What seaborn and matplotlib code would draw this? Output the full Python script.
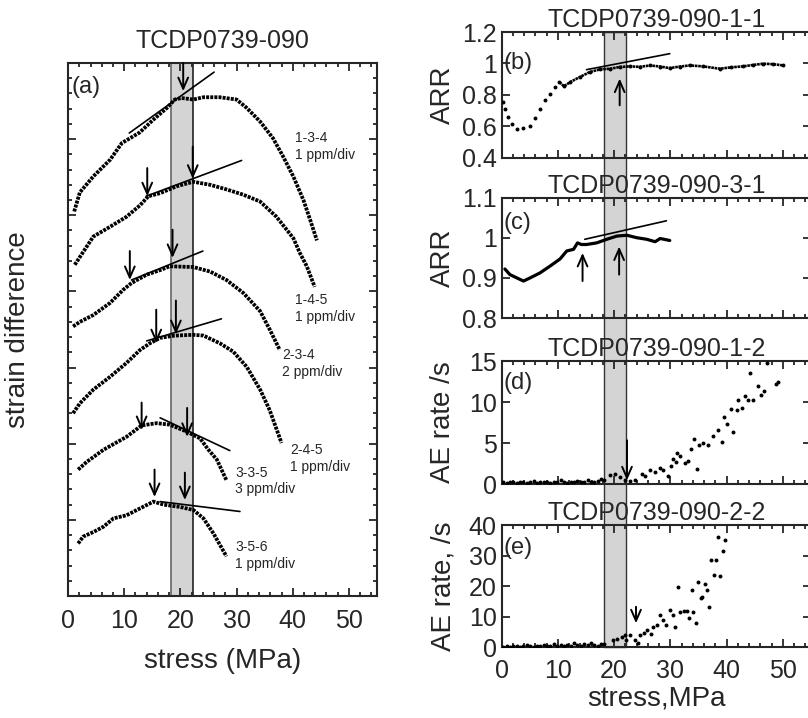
import pandas as pd
import matplotlib.pyplot as plt
import matplotlib.transforms as mtransforms
from matplotlib.patches import Rectangle
from matplotlib.ticker import MultipleLocator, FuncFormatter
import seaborn as sns

sns.set_style("ticks")
plt.rcParams['font.family'] = ['Liberation Sans', 'DejaVu Sans']

# ---- panel (a): strain difference curves (stress MPa, offset in divisions) ----
a134_x = [1.1, 2.1, 4.5, 7.5, 9.6, 11.0, 12.8, 15.1, 17.6, 19.0, 20.2, 22.3, 24.1, 27.0, 30.0,
          31.8, 34.2, 36.5, 38.3, 40.1, 41.9, 43.1, 44.3]
a134_y = [5.05, 5.30, 5.51, 5.73, 5.95, 6.01, 6.09, 6.25, 6.41, 6.52, 6.54, 6.52, 6.55, 6.55, 6.52,
          6.41, 6.23, 6.01, 5.77, 5.51, 5.20, 4.94, 4.67]
a145_x = [1.2, 4.5, 7.5, 10.4, 12.8, 14.3, 16.4, 19.3, 22.3, 25.3, 28.2, 31.2, 34.2, 37.1, 40.1,
          41.3, 42.5, 43.9]
a145_y = [4.35, 4.72, 4.85, 4.98, 5.13, 5.25, 5.29, 5.38, 5.44, 5.40, 5.34, 5.27, 5.18, 4.98, 4.70,
          4.50, 4.33, 4.06]
a234_x = [0.9, 2.1, 4.5, 7.5, 9.8, 11.3, 14.0, 16.4, 18.1, 22.3, 25.3, 28.2, 31.2, 34.2, 35.9, 37.7]
a234_y = [3.54, 3.60, 3.69, 3.85, 4.02, 4.11, 4.22, 4.28, 4.33, 4.32, 4.26, 4.15, 3.98, 3.74, 3.50, 3.23]
a245_x = [0.9, 2.1, 4.5, 7.5, 10.4, 12.8, 14.6, 16.4, 19.0, 22.3, 24.1, 27.0, 29.4, 31.8, 34.2,
          35.9, 38.0]
a245_y = [2.40, 2.53, 2.71, 2.88, 3.06, 3.23, 3.32, 3.39, 3.42, 3.43, 3.42, 3.32, 3.21, 3.01, 2.71,
          2.44, 2.01]
a335_x = [1.8, 3.3, 6.3, 10.4, 13.1, 15.8, 18.1, 21.1, 23.5, 25.0, 26.5, 28.2]
a335_y = [1.66, 1.76, 1.92, 2.09, 2.24, 2.27, 2.25, 2.16, 2.07, 1.92, 1.79, 1.52]
a356_x = [1.8, 2.7, 4.5, 6.3, 8.1, 10.4, 12.8, 15.2, 17.0, 19.9, 22.3, 24.1, 25.9, 28.2]
a356_y = [0.69, 0.78, 0.84, 0.91, 1.02, 1.06, 1.15, 1.24, 1.20, 1.17, 1.13, 1.02, 0.82, 0.52]

curve_names = ["1-3-4\n1 ppm/div", "1-4-5\n1 ppm/div", "2-3-4\n2 ppm/div",
               "2-4-5\n1 ppm/div", "3-3-5\n3 ppm/div", "3-5-6\n1 ppm/div"]
label_x = [40.4, 40.4, 38.1, 39.5, 29.8, 29.8]
label_y = [5.9, 3.78, 3.05, 1.81, 1.51, 0.53]

# arrows: (stress, tail y, tip y) ; tangent lines: (x0, y0, x1, y1)
a_arrows = [(20.5, 7.0, 6.63), (14.1, 5.62, 5.25), (22.2, 5.90, 5.48),
            (11.0, 4.53, 4.15), (18.6, 4.81, 4.44), (15.7, 3.76, 3.32), (19.2, 3.88, 3.44),
            (13.1, 2.54, 2.18), (21.2, 2.47, 2.09), (15.4, 1.66, 1.30), (20.8, 1.62, 1.26)]
a_tangents = [(10.9, 6.08, 26.0, 6.88), (13.9, 5.25, 30.9, 5.72), (11.3, 4.15, 24.0, 4.53),
              (14.0, 3.35, 27.3, 3.64), (16.4, 2.34, 28.8, 1.91), (16.4, 1.24, 30.6, 1.11)]

shade_lo, shade_hi = 18.3, 22.2

# ---- panel (b): ARR, TCDP0739-090-1-1 ----
b_x = [0.3, 0.6, 1.2, 1.8, 2.7, 3.9, 5.1, 6.0, 6.8, 7.7, 8.6, 9.5, 10.3, 11.1, 12.2, 13.9, 15.7,
       17.5, 19.3, 21.0, 22.8, 24.6, 26.4, 28.2, 29.9, 31.7, 33.5, 35.8, 38.8, 40.8, 42.9, 44.7,
       46.5, 48.3, 50.1]
b_y = [0.754, 0.712, 0.659, 0.613, 0.585, 0.589, 0.600, 0.649, 0.712, 0.765, 0.808, 0.850, 0.881,
       0.854, 0.881, 0.913, 0.945, 0.962, 0.966, 0.977, 0.981, 0.978, 0.987, 0.980, 0.970, 0.980,
       0.987, 0.981, 0.966, 0.975, 0.981, 0.990, 0.998, 0.995, 0.987]
b_arrows = [(21.0, 0.733, 0.903)]
b_tangent = (15.1, 0.960, 29.9, 1.062)

# ---- panel (c): ARR, TCDP0739-090-3-1 ----
c_x = [0.6, 1.5, 2.7, 3.9, 5.1, 6.8, 8.6, 10.4, 11.6, 12.8, 13.5, 14.2, 15.1, 16.9, 18.7, 20.5,
       22.3, 24.0, 25.8, 27.3, 28.2, 29.9]
c_y = [0.922, 0.908, 0.900, 0.892, 0.900, 0.912, 0.929, 0.947, 0.967, 0.971, 0.987, 0.983, 0.983,
       0.987, 0.996, 1.004, 1.006, 1.000, 0.996, 0.990, 0.998, 0.993]
c_arrows = [(14.4, 0.892, 0.962), (20.9, 0.908, 0.978)]
c_tangent = (14.8, 0.996, 29.3, 1.042)

# ---- panel (d): AE rate, TCDP0739-090-1-2 ----
d_x = [0.3, 0.9, 1.5, 2.1, 2.7, 3.3, 3.9, 4.5, 5.1, 5.7, 6.3, 6.9, 7.5, 8.1, 8.7, 9.3, 9.9, 10.5,
       11.1, 11.7, 12.3, 12.9, 13.5, 14.1, 14.7, 15.3, 15.9, 16.5, 17.1, 17.7, 18.3,
       19.3, 20.2, 21.0, 21.9, 22.8, 23.7, 24.9, 25.5, 26.4, 27.3, 28.2, 28.7, 29.6, 30.2, 31.0,
       30.4, 31.1, 31.7, 32.6, 33.2, 34.7, 33.7, 34.2, 35.1, 35.8, 36.7, 37.6, 38.5, 39.1, 39.6,
       40.1, 41.1, 40.7, 41.8, 42.1, 42.7, 43.2, 44.1, 43.8, 44.7, 45.6, 46.2, 46.6, 47.2, 48.8,
       49.2]
d_y = [0.2, 0.1, 0.3, 0.2, 0.1, 0.2, 0.3, 0.1, 0.2, 0.4, 0.1, 0.2, 0.3, 0.2, 0.1, 0.3, 0.2, 0.5,
       0.2, 0.1, 0.3, 0.2, 0.4, 0.2, 0.3, 0.5, 0.3, 0.2, 0.4, 0.6, 0.5,
       1.06, 1.27, 0.85, 0.45, 0.37, 0.54, 1.27, 0.94, 1.76, 1.46, 2.0, 1.76, 0.94, 2.16, 2.68,
       3.10, 3.78, 3.38, 2.56, 2.80, 1.88, 4.32, 5.54, 4.72, 5.00, 4.72, 5.82, 6.55, 5.12, 8.17,
       7.37, 6.34, 9.19, 9.07, 10.2, 9.32, 10.7, 13.5, 10.3, 10.2, 12.0, 10.8, 11.4, 14.7, 12.2,
       12.4]
d_arrows = [(22.3, 5.33, 0.45)]

# ---- panel (e): AE rate, TCDP0739-090-2-2 ----
e_x = [0.3, 0.9, 1.5, 2.1, 2.7, 3.3, 3.9, 4.5, 5.1, 5.7, 6.3, 6.9, 7.5, 8.1, 8.7, 9.3, 9.9, 10.5,
       11.1, 11.7, 12.3, 12.9, 13.5, 14.1, 14.7, 15.3, 15.9, 16.5, 17.1, 17.7, 18.3,
       19.9, 20.5, 21.4, 21.9, 22.2, 22.8, 23.7, 24.3, 24.6, 25.3, 25.8, 26.5, 27.0, 27.6, 28.2,
       28.7, 29.3, 29.9, 30.4, 30.8, 31.4, 31.8, 32.4, 33.0, 33.4, 33.8, 34.1, 34.5, 34.9, 35.4,
       35.7, 36.1, 36.6, 36.9, 37.3, 37.7, 38.2, 38.9, 38.5, 39.4, 39.7]
e_y = [0.3, 0.5, 0.2, 0.6, 0.4, 0.3, 0.5, 0.8, 0.4, 0.3, 0.6, 0.5, 0.9, 0.4, 0.6, 1.2, 0.5, 0.7,
       0.4, 0.9, 0.6, 1.4, 0.8, 0.5, 1.1, 0.7, 1.5, 0.9, 0.6, 1.2, 1.0,
       2.4, 2.7, 3.5, 4.1, 2.4, 4.1, 2.4, 1.4, 4.1, 4.8, 5.7, 4.4, 6.8, 7.3, 10.6,
       8.9, 7.3, 12.2, 10.6, 6.8, 19.6, 11.6, 12.0, 12.0, 9.5, 18.7, 11.6, 8.1, 21.4, 16.0,
       16.5, 20.7, 18.7, 13.3, 28.7, 23.6, 28.5, 23.3, 36.0, 31.5, 35.2]
e_arrows = [(23.9, 13.3, 7.9)]

FS = 18
fig = plt.figure(figsize=(8.08, 7.18), dpi=100)
ax_a = fig.add_axes([0.0842, 0.1699, 0.3824, 0.7424])
ax_b = fig.add_axes([0.6207, 0.7806, 0.3830, 0.1748])
ax_c = fig.add_axes([0.6207, 0.5571, 0.3830, 0.1678])
ax_d = fig.add_axes([0.6207, 0.3259, 0.3830, 0.1713])
ax_e = fig.add_axes([0.6207, 0.0982, 0.3830, 0.1706])
right_axes = [ax_b, ax_c, ax_d, ax_e]


def style_axis(ax, ymajor, yminor=None):
    ax.set_xlim(0, 55)
    ax.xaxis.set_major_locator(MultipleLocator(10))
    ax.xaxis.set_minor_locator(MultipleLocator(2))
    ax.yaxis.set_major_locator(MultipleLocator(ymajor))
    if yminor:
        ax.yaxis.set_minor_locator(MultipleLocator(yminor))
    ax.tick_params(which='both', direction='in', top=True, right=True, width=1.3,
                   labelsize=FS)
    ax.tick_params(which='major', length=6)
    ax.tick_params(which='minor', length=3)
    for s in ax.spines.values():
        s.set_linewidth(1.5)
    ax.yaxis.set_major_formatter(FuncFormatter(lambda v, p: f"{v:g}"))


def arrow(ax, x, ytail, ytip):
    ax.annotate('', xy=(x, ytip), xytext=(x, ytail),
                arrowprops=dict(arrowstyle='->,head_length=0.8,head_width=0.35',
                                lw=1.4, color='k', shrinkA=0, shrinkB=0))


# ---- (a) ----
style_axis(ax_a, 1, 0.2)
ax_a.set_ylim(0, 7)
ax_a.tick_params(axis='x', pad=9)
ax_a.set_yticklabels([])
ax_a.axvspan(shade_lo, shade_hi, facecolor='#d4d4d4', edgecolor='none', zorder=0)
ax_a.axvline(shade_lo, color='#666666', lw=1.2, zorder=0.5)
ax_a.axvline(shade_hi, color='#222222', lw=1.2, zorder=0.5)
for cx, cy in [(a134_x, a134_y), (a145_x, a145_y), (a234_x, a234_y),
               (a245_x, a245_y), (a335_x, a335_y), (a356_x, a356_y)]:
    sns.lineplot(x=cx, y=cy, ax=ax_a, color='k', lw=2.7, estimator=None,
                 linestyle=(0, (0.8, 0.3)), zorder=3)
for x0, y0, x1, y1 in a_tangents:
    ax_a.plot([x0, x1], [y0, y1], color='k', lw=1.2, zorder=3)
for x, yt, yh in a_arrows:
    arrow(ax_a, x, yt, yh)
for name, lx, ly in zip(curve_names, label_x, label_y):
    ax_a.text(lx, ly, name, fontsize=10, ha='left', va='center', linespacing=1.25)
ax_a.text(0.012, 0.955, '(a)', transform=ax_a.transAxes, fontsize=17, ha='left', va='center')
ax_a.set_title('TCDP0739-090', fontsize=FS, pad=11)
ax_a.set_xlabel('stress (MPa)', fontsize=20, labelpad=11)
ax_a.set_ylabel('strain difference', fontsize=20, va='center')
ax_a.yaxis.set_label_coords(-0.162, 0.5)

# ---- right panels ----
style_axis(ax_b, 0.2)
ax_b.set_ylim(0.4, 1.2)
style_axis(ax_c, 0.1)
ax_c.set_ylim(0.8, 1.1)
style_axis(ax_d, 5)
ax_d.set_ylim(0, 15)
style_axis(ax_e, 10)
ax_e.set_ylim(0, 40)

sns.scatterplot(x=b_x, y=b_y, ax=ax_b, color='k', s=8, linewidth=0, zorder=3)
bx_line = [x for x in b_x if x >= 10]
by_line = [y for x, y in zip(b_x, b_y) if x >= 10]
sns.lineplot(x=bx_line, y=by_line, ax=ax_b, color='k', lw=1.9, estimator=None, zorder=3,
             linestyle=(0, (1.0, 0.25)))
sns.lineplot(x=c_x, y=c_y, ax=ax_c, color='k', lw=2.3, estimator=None, zorder=3)
sns.scatterplot(x=d_x, y=d_y, ax=ax_d, color='k', s=8, linewidth=0, zorder=3)
sns.scatterplot(x=e_x, y=e_y, ax=ax_e, color='k', s=8, linewidth=0, zorder=3)

for ax, (x0, y0, x1, y1) in [(ax_b, b_tangent), (ax_c, c_tangent)]:
    ax.plot([x0, x1], [y0, y1], color='k', lw=1.2, zorder=3)
for ax, arrs in [(ax_b, b_arrows), (ax_c, c_arrows), (ax_d, d_arrows), (ax_e, e_arrows)]:
    for x, yt, yh in arrs:
        arrow(ax, x, yt, yh)

titles = ['TCDP0739-090-1-1', 'TCDP0739-090-3-1', 'TCDP0739-090-1-2', 'TCDP0739-090-2-2']
ylabels = ['ARR', 'ARR', 'AE rate /s', 'AE rate, /s']
tags = ['(b)', '(c)', '(d)', '(e)']
tag_y = [0.753, 0.789, 0.819, 0.809]
for ax, t, yl, tag, ty in zip(right_axes, titles, ylabels, tags, tag_y):
    ax.set_facecolor('none')
    ax.set_title(t, fontsize=FS, pad=1.5)
    ax.set_ylabel(yl, fontsize=20, va='center')
    ax.yaxis.set_label_coords(-0.189, 0.5)
    ax.text(0.005, ty, tag, transform=ax.transAxes, fontsize=17, ha='left', va='center')
    if ax is not ax_e:
        ax.tick_params(axis='x', labelbottom=False)
ax_e.tick_params(axis='x', pad=8)
ax_e.set_xlabel('stress,MPa', fontsize=20, labelpad=2)

# shaded band running through all right panels
band_y0 = 0.0982
band_y1 = 0.7806 + 0.1748
trans = mtransforms.blended_transform_factory(ax_e.transData, fig.transFigure)
band = Rectangle((shade_lo, band_y0), shade_hi - shade_lo, band_y1 - band_y0, transform=trans,
                 facecolor='#d4d4d4', edgecolor='#333333', lw=1.0, zorder=-1)
fig.add_artist(band)

fig.savefig('out.png', dpi=100)
